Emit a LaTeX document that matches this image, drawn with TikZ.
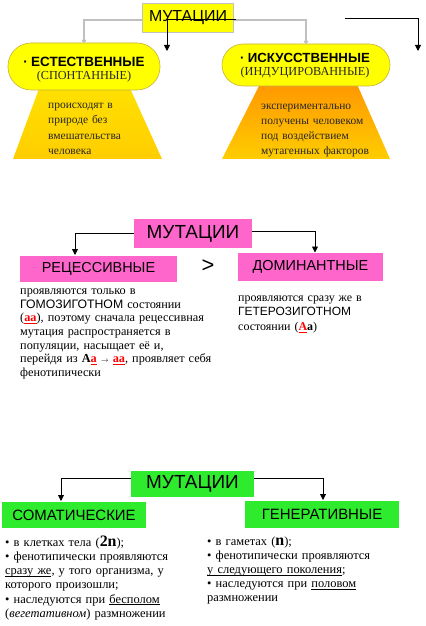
\documentclass[tikz,border=0pt]{standalone}
\usepackage{fontspec}
\setmainfont{Liberation Serif}
\newfontfamily\arial{Liberation Sans}
\usetikzlibrary{arrows.meta,calc}
\definecolor{ybox}{HTML}{FFFF00}
\definecolor{pinkbox}{HTML}{FF66CC}
\definecolor{greenbox}{HTML}{2EEB2E}
\definecolor{pillline}{HTML}{C8B040}
\definecolor{grayline}{HTML}{C0C0C0}
\definecolor{txtdark}{HTML}{262626}
\definecolor{orA}{RGB}{255,140,0}
\definecolor{orB}{RGB}{255,225,0}
\definecolor{orC}{RGB}{255,205,0}
\definecolor{orD}{RGB}{255,150,0}
\newcommand{\myul}[1]{\leavevmode{\setbox0\hbox{#1}\rlap{\rule[-1.8bp]{\wd0}{0.5bp}}\box0}}
\newcommand{\rdu}[1]{\textcolor{red}{\myul{\textbf{#1}}}}
\begin{document}
\begin{tikzpicture}[x=1bp,y=-1bp,
  titlebox/.style={inner sep=0pt, font=\arial},
  pill/.style={draw=pillline, line width=0.6bp, fill=ybox, inner sep=0pt},
  catbox/.style={inner sep=0pt, font=\arial\fontsize{15}{15}\selectfont},
  pinkcat/.style={inner sep=0pt, font=\arial\fontsize{14.5}{15}\selectfont},
  body/.style={inner sep=0pt, anchor=base west, align=left, text width=#1},
  arr/.style={line width=0.9bp, -{Triangle[length=6bp,width=6bp]}},
  gline/.style={draw=grayline, line width=1.5bp, -{Circle[open,length=4bp,width=4bp]}}]
\useasboundingbox (0,0) rectangle (425,626);

% ---------- top section ----------
\shade[top color=orB, middle color=orA, bottom color=orC]
  (40,86) -- (129,86) -- (162,159) -- (13,159) -- cycle;
\shade[top color=orD, bottom color=orC]
  (261,82) -- (356,82) -- (390,159) -- (222,159) -- cycle;

\node[titlebox, draw=grayline, line width=0.5bp, fill=ybox, minimum width=91bp, minimum height=29bp,
  font=\arial\fontsize{16}{16}\selectfont] (m1) at (188,18) {МУТАЦИИ};

\node[pill, minimum width=152bp, minimum height=47bp, rounded corners=23bp] (p1) at (84,66.5) {};
\node[pill, minimum width=168bp, minimum height=42bp, rounded corners=21bp] (p2) at (306,65) {};

\draw[gline] ($(m1.west)+(0,2)$) -| (p1.north);
\draw[gline] ($(m1.east)+(0,2)$) -| (p2.north);

\coordinate (s1) at (236,19);
\coordinate (e1) at (167,51);
\draw[arr] (s1) -| (e1);
\coordinate (s2) at (345,18);
\coordinate (e2) at (418,51);
\draw[arr] (s2) -| (e2);

\node[body=150bp, align=center, anchor=base] (p1t) at (84,67)
  {{\arial\bfseries\fontsize{13.5}{14}\selectfont · ЕСТЕСТВЕННЫЕ}\\[0.5bp]
   {\fontsize{12.3}{14}\selectfont\color{txtdark}(СПОНТАННЫЕ)}};
\node[body=166bp, align=center, anchor=base] (p2t) at (305,63)
  {{\arial\bfseries\fontsize{13.3}{14}\selectfont · ИСКУССТВЕННЫЕ}\\[0.5bp]
   {\fontsize{12.3}{14}\selectfont\color{txtdark}(ИНДУЦИРОВАННЫЕ)}};

\node[body=110bp, font=\fontsize{11.5}{15.5}\selectfont\color{txtdark}] (t1) at (48,108.5)
  {происходят в\\природе без\\вмешательства\\человека};
\node[body=130bp, font=\fontsize{11.5}{15}\selectfont\color{txtdark}] (t2) at (261,110)
  {экспериментально\\получены человеком\\под воздействием\\мутагенных факторов};

% ---------- middle section ----------
\node[catbox, fill=pinkbox, minimum width=118bp, minimum height=29bp,
  font=\arial\fontsize{19}{19}\selectfont] (m2) at (193,233.5) {МУТАЦИИ};
\node[pinkcat, fill=pinkbox, minimum width=157bp, minimum height=26bp] (rec) at (98.5,269) {РЕЦЕССИВНЫЕ};
\node[pinkcat, fill=pinkbox, minimum width=145bp, minimum height=28bp] (dom) at (310.5,267) {ДОМИНАНТНЫЕ};
\node[inner sep=0pt, font=\arial\fontsize{22}{22}\selectfont] (gt) at (208,266) {>};

\coordinate (a2l) at (75,255);
\coordinate (a2r) at (315,252.5);
\draw[arr] (m2.west) -| (a2l);
\draw[arr] ($(m2.east)+(0,-2)$) -| (a2r);

\node[body=215bp, font=\fontsize{12.3}{13.7}\selectfont] (rtext) at (20,294.5)
  {проявляются только в\\
   {\arial ГОМОЗИГОТНОМ} состоянии\\
   (\rdu{аа}), поэтому сначала рецессивная\\
   мутация распространяется в\\
   популяции, насыщает её и,\\
   перейдя из \textbf{А}\rdu{а} {\scriptsize$\rightarrow$} \rdu{аа}, проявляет себя\\
   фенотипически};
\node[body=170bp, font=\fontsize{12}{14.8}\selectfont] (dtext) at (238,301)
  {проявляются сразу же в\\
   {\arial ГЕТЕРОЗИГОТНОМ}\\
   состоянии (\rdu{А}\textbf{а})};

% ---------- bottom section ----------
\node[catbox, fill=greenbox, minimum width=123bp, minimum height=26bp,
  font=\arial\fontsize{19}{19}\selectfont] (m3) at (192.5,484) {МУТАЦИИ};
\node[catbox, fill=greenbox, minimum width=144bp, minimum height=26bp] (som) at (74,515) {СОМАТИЧЕСКИЕ};
\node[catbox, fill=greenbox, minimum width=154bp, minimum height=27bp] (gen) at (322,514.5) {ГЕНЕРАТИВНЫЕ};

\coordinate (a3l) at (61,501);
\coordinate (a3r) at (323,500);
\draw[arr] ($(m3.west)+(0,-6)$) -| (a3l);
\draw[arr] ($(m3.east)+(0,-6)$) -| (a3r);

\node[body=200bp, font=\fontsize{12.5}{14.2}\selectfont] (stext) at (5,546.5)
  {• в клетках тела ({\fontsize{16}{14}\selectfont\textbf{2n}});\\
   • фенотипически проявляются\\
   \myul{сразу же}, у того организма, у\\
   которого произошли;\\
   • наследуются при \myul{бесполом}\\
   (\textit{вегетативном}) размножении};
\node[body=200bp, font=\fontsize{12.5}{14.2}\selectfont] (gtext) at (207,545)
  {• в гаметах ({\fontsize{16}{14}\selectfont\textbf{n}});\\
   • фенотипически проявляются\\
   \myul{у следующего поколения};\\
   • наследуются при \myul{половом}\\
   размножении};
\end{tikzpicture}
\end{document}
